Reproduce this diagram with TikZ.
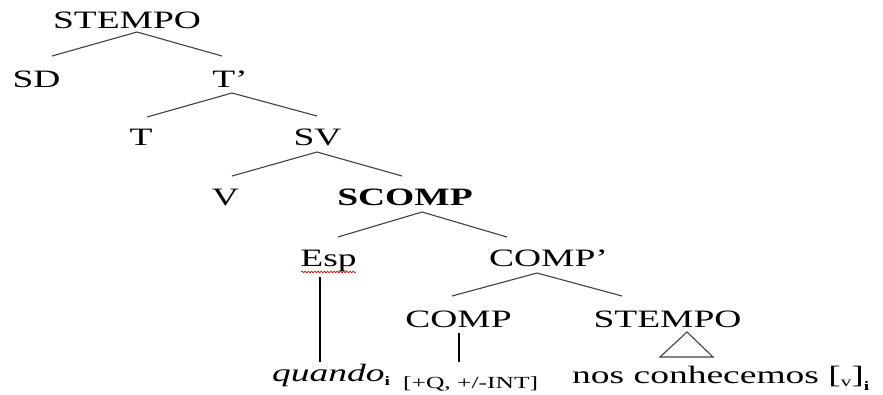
\documentclass[tikz,border=0pt]{standalone}
\usepackage{fontspec}
\usepackage{graphicx}
\setmainfont{Liberation Serif}
\usetikzlibrary{decorations.pathmorphing}
\newcommand\wx[1]{\scalebox{1.5}[1]{#1}}
\tikzset{
  lbl/.style={inner sep=0pt, anchor=base, font=\fontsize{25}{30}\selectfont},
  branch/.style={draw=black!75, line width=1.1pt},
  stem/.style={draw=black, line width=2.8pt},
  spell/.style={draw=red!85!black, line width=0.6pt, decorate,
    decoration={snake, amplitude=0.9pt, segment length=3.2pt}}
}
\begin{document}
\begin{tikzpicture}[x=1pt,y=-1pt]
\useasboundingbox (0,0) rectangle (883,394);
% nodes
\node[lbl] (stempoA) at (127,28) {\wx{STEMPO}};
\node[lbl] (sd) at (36.5,87) {\wx{SD}};
\node[lbl] (tbar) at (230,87) {\wx{T’}};
\node[lbl] (t) at (141,145) {\wx{T}};
\node[lbl] (sv) at (317.5,145) {\wx{SV}};
\node[lbl] (v) at (225.5,205) {\wx{V}};
\node[lbl] (scomp) at (405,205) {\wx{\bfseries SCOMP}};
\node[lbl] (esp) at (328.5,266) {\wx{Esp}};
\node[lbl] (compbar) at (548.5,266) {\wx{COMP’}};
\node[lbl] (comp) at (458.5,327) {\wx{COMP}};
\node[lbl] (stempoB) at (667.5,327) {\wx{STEMPO}};
\node[lbl, anchor=base west] (quando) at (272,381)
  {\wx{\itshape quando}\raisebox{-4pt}{\wx{\fontsize{13}{13}\selectfont\bfseries i}}};
\node[lbl, anchor=base west, font=\fontsize{17}{20}\selectfont] (feat) at (403,388) {\wx{[+Q, +/-INT]}};
\node[lbl, anchor=base west] (nos) at (572,383)
  {\wx{nos conhecemos [\raisebox{-3pt}{\fontsize{14}{14}\selectfont v}]}\raisebox{-7pt}{\wx{\fontsize{13}{13}\selectfont\bfseries i}}};
% connector points
\coordinate (stempoA-b) at (137,32);
\coordinate (sd-t) at (52,56);
\coordinate (tbar-t) at (222,56);
\coordinate (tbar-b) at (232,93);
\coordinate (t-t) at (147,117);
\coordinate (sv-t) at (317,116);
\coordinate (sv-b) at (317,152);
\coordinate (v-t) at (232,176);
\coordinate (scomp-t) at (402,176);
\coordinate (scomp-b) at (422,212);
\coordinate (esp-t) at (338,237);
\coordinate (compbar-t) at (507,237);
\coordinate (compbar-b) at (537,273);
\coordinate (comp-t) at (452,296);
\coordinate (stempoB-t) at (622,296);
\coordinate (esp-b) at (320,277);
\coordinate (quando-t) at (320,362);
\coordinate (comp-b) at (459,333);
\coordinate (feat-t) at (459,362);
\coordinate (tri-a) at (687,332);
\coordinate (tri-l) at (660,357);
\coordinate (tri-r) at (713,357);
\coordinate (wave-l) at (301,272);
\coordinate (wave-r) at (356,272);
% branches
\draw[branch] (sd-t) -- (stempoA-b) -- (tbar-t);
\draw[branch] (t-t) -- (tbar-b) -- (sv-t);
\draw[branch] (v-t) -- (sv-b) -- (scomp-t);
\draw[branch] (esp-t) -- (scomp-b) -- (compbar-t);
\draw[branch] (comp-t) -- (compbar-b) -- (stempoB-t);
\draw[stem] (esp-b) -- (quando-t);
\draw[stem] (comp-b) -- (feat-t);
\draw[branch] (tri-a) -- (tri-l) -- (tri-r) -- cycle;
\draw[spell] (wave-l) -- (wave-r);
\end{tikzpicture}
\end{document}
